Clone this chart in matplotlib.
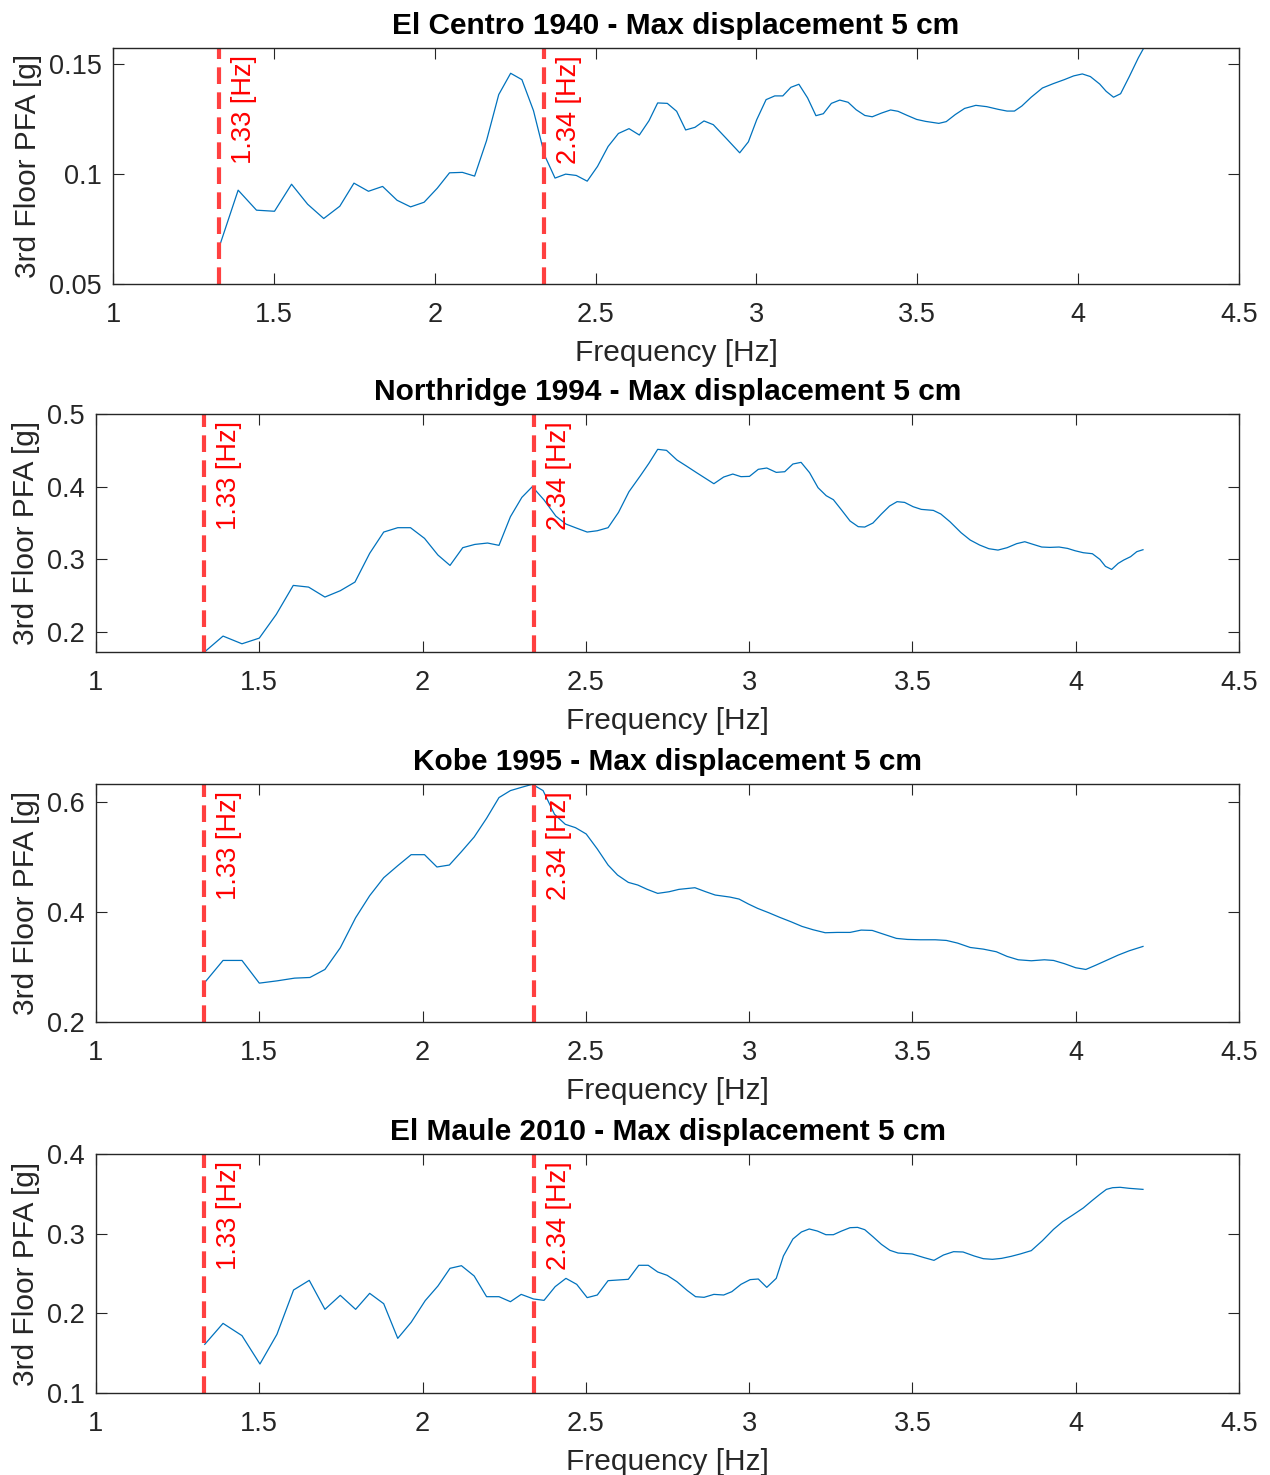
import matplotlib
matplotlib.use("Agg")
import matplotlib.pyplot as plt

plt.rcParams['font.family'] = ['Liberation Sans', 'DejaVu Sans']

titles = ["El Centro 1940 - Max displacement 5 cm",
          "Northridge 1994 - Max displacement 5 cm",
          "Kobe 1995 - Max displacement 5 cm",
          "El Maule 2010 - Max displacement 5 cm"]
xlabel = "Frequency [Hz]"
ylabel = "3rd Floor PFA [g]"
mode_freqs = [1.33, 2.34]
mode_labels = ["1.33 [Hz]", "2.34 [Hz]"]
xticks = [1, 1.5, 2, 2.5, 3, 3.5, 4, 4.5]
xticklabels = ["1", "1.5", "2", "2.5", "3", "3.5", "4", "4.5"]

# El Centro
f1 = [1.333, 1.389, 1.446, 1.502, 1.555, 1.605, 1.655, 1.705, 1.749, 1.794,
      1.838, 1.883, 1.925, 1.967, 2.008, 2.046, 2.086, 2.124, 2.161, 2.199,
      2.236, 2.271, 2.307, 2.342, 2.374, 2.407, 2.440, 2.474, 2.506, 2.539,
      2.571, 2.604, 2.636, 2.666, 2.693, 2.723, 2.752, 2.780, 2.809, 2.837,
      2.866, 2.906, 2.948, 2.975, 3.001, 3.030, 3.057, 3.082, 3.107, 3.132,
      3.159, 3.185, 3.208, 3.233, 3.259, 3.285, 3.310, 3.337, 3.360, 3.389,
      3.417, 3.440, 3.469, 3.498, 3.526, 3.567, 3.590, 3.618, 3.647, 3.682,
      3.716, 3.751, 3.779, 3.802, 3.825, 3.854, 3.889, 3.923, 3.957, 3.986,
      4.013, 4.038, 4.067, 4.087, 4.110, 4.132, 4.159, 4.187, 4.210]
v1 = [0.0681, 0.0927, 0.0836, 0.0831, 0.0954, 0.0863, 0.0798, 0.0854, 0.0959, 0.0922,
      0.0944, 0.0881, 0.0851, 0.0872, 0.0936, 0.1006, 0.1008, 0.0991, 0.1152, 0.1362,
      0.1459, 0.1430, 0.1289, 0.1084, 0.0982, 0.1000, 0.0994, 0.0968, 0.1035, 0.1126,
      0.1185, 0.1207, 0.1178, 0.1243, 0.1324, 0.1322, 0.1286, 0.1201, 0.1213, 0.1242,
      0.1225, 0.1163, 0.1097, 0.1147, 0.1248, 0.1339, 0.1356, 0.1356, 0.1395, 0.1409,
      0.1347, 0.1266, 0.1275, 0.1322, 0.1337, 0.1327, 0.1293, 0.1267, 0.1261, 0.1278,
      0.1292, 0.1286, 0.1267, 0.1249, 0.1240, 0.1231, 0.1239, 0.1271, 0.1299, 0.1313,
      0.1307, 0.1295, 0.1287, 0.1287, 0.1310, 0.1350, 0.1392, 0.1412, 0.1430, 0.1447,
      0.1456, 0.1444, 0.1410, 0.1377, 0.1350, 0.1366, 0.1444, 0.1529, 0.1590]

# Northridge
f2 = [1.333, 1.389, 1.447, 1.500, 1.552, 1.604, 1.651, 1.701, 1.748, 1.793,
      1.838, 1.881, 1.924, 1.963, 2.006, 2.047, 2.084, 2.123, 2.160, 2.199,
      2.234, 2.269, 2.304, 2.336, 2.372, 2.408, 2.439, 2.471, 2.504, 2.535,
      2.568, 2.600, 2.632, 2.667, 2.693, 2.720, 2.747, 2.779, 2.808,
      2.839, 2.892, 2.922, 2.950, 2.975, 3.001, 3.028, 3.054, 3.083, 3.109,
      3.134, 3.159, 3.185, 3.211, 3.236, 3.258, 3.283, 3.309, 3.334, 3.354,
      3.379, 3.405, 3.430, 3.453, 3.476, 3.502, 3.527, 3.564, 3.587, 3.615,
      3.649, 3.677, 3.706, 3.734, 3.762, 3.790, 3.819, 3.844, 3.870, 3.896,
      3.921, 3.949, 3.975, 3.998, 4.023, 4.051, 4.074, 4.091, 4.110, 4.130,
      4.147, 4.168, 4.187, 4.206]
v2 = [0.1729, 0.1945, 0.1839, 0.1917, 0.2243, 0.2642, 0.2619, 0.2482, 0.2569, 0.2688,
      0.3083, 0.3376, 0.3436, 0.3436, 0.3289, 0.3060, 0.2917, 0.3161, 0.3206, 0.3225,
      0.3193, 0.3587, 0.3853, 0.4000, 0.3817, 0.3596, 0.3486, 0.3431, 0.3376, 0.3394,
      0.3436, 0.3647, 0.3931, 0.4151, 0.4321, 0.4514, 0.4500, 0.4367, 0.4284,
      0.4193, 0.4041, 0.4133, 0.4174, 0.4138, 0.4142, 0.4239, 0.4257, 0.4197, 0.4206,
      0.4312, 0.4335, 0.4193, 0.3986, 0.3876, 0.3821, 0.3679, 0.3528, 0.3450, 0.3445,
      0.3500, 0.3624, 0.3734, 0.3794, 0.3784, 0.3725, 0.3688, 0.3674, 0.3624, 0.3518,
      0.3367, 0.3266, 0.3197, 0.3147, 0.3128, 0.3161, 0.3216, 0.3243, 0.3206, 0.3170,
      0.3165, 0.3170, 0.3151, 0.3119, 0.3092, 0.3078, 0.3000, 0.2904, 0.2862, 0.2945,
      0.2991, 0.3037, 0.3106, 0.3133]

# Kobe
f3 = [1.333, 1.389, 1.447, 1.500, 1.555, 1.608, 1.655, 1.701, 1.748, 1.795,
      1.838, 1.881, 1.924, 1.965, 2.006, 2.044, 2.082, 2.119, 2.158, 2.196,
      2.234, 2.269, 2.304, 2.336, 2.369, 2.404, 2.437, 2.468, 2.501, 2.535,
      2.568, 2.597, 2.630, 2.659, 2.688, 2.720, 2.755, 2.785,
      2.834, 2.867, 2.896, 2.941, 2.969, 2.998, 3.026, 3.060, 3.094, 3.128,
      3.162, 3.196, 3.233, 3.270, 3.309, 3.343, 3.377, 3.411, 3.451, 3.485,
      3.524, 3.570, 3.604, 3.638, 3.677, 3.717, 3.757, 3.790, 3.824, 3.864,
      3.904, 3.932, 3.966, 4.000, 4.031, 4.062, 4.096, 4.130, 4.164, 4.206]
v3 = [0.2719, 0.3120, 0.3120, 0.2707, 0.2749, 0.2798, 0.2810, 0.2956, 0.3350, 0.3897,
      0.4298, 0.4625, 0.4844, 0.5044, 0.5044, 0.4820, 0.4856, 0.5099, 0.5366, 0.5706,
      0.6083, 0.6210, 0.6271, 0.6325, 0.6210, 0.5779, 0.5597, 0.5536, 0.5421, 0.5148,
      0.4856, 0.4674, 0.4540, 0.4492, 0.4413, 0.4340, 0.4370, 0.4413,
      0.4443, 0.4370, 0.4310, 0.4273, 0.4237, 0.4146, 0.4067, 0.3988, 0.3903, 0.3824,
      0.3739, 0.3678, 0.3624, 0.3630, 0.3630, 0.3672, 0.3666, 0.3599, 0.3521, 0.3502,
      0.3496, 0.3496, 0.3484, 0.3436, 0.3356, 0.3326, 0.3278, 0.3193, 0.3132, 0.3114,
      0.3132, 0.3120, 0.3060, 0.2987, 0.2956, 0.3035, 0.3126, 0.3217, 0.3296, 0.3375]

# El Maule
f4 = [1.333, 1.389, 1.447, 1.502, 1.554, 1.605, 1.653, 1.701, 1.748, 1.795,
      1.838, 1.881, 1.924, 1.965, 2.008, 2.047, 2.084, 2.119, 2.158, 2.196,
      2.234, 2.269, 2.302, 2.340, 2.372, 2.406, 2.439, 2.472, 2.504, 2.535,
      2.568, 2.630, 2.662, 2.691, 2.720, 2.749, 2.779,
      2.811, 2.836, 2.862, 2.892, 2.922, 2.947, 2.975, 3.003, 3.028, 3.054,
      3.083, 3.105, 3.134, 3.160, 3.184, 3.209, 3.235, 3.258, 3.283, 3.309,
      3.332, 3.354, 3.379, 3.405, 3.431, 3.456, 3.499, 3.536, 3.566, 3.595,
      3.626, 3.655, 3.689, 3.717, 3.745, 3.773, 3.802, 3.830, 3.864, 3.898,
      3.932, 3.960, 3.991, 4.023, 4.051, 4.074, 4.094, 4.113, 4.136, 4.164,
      4.206]
v4 = [0.1611, 0.1874, 0.1720, 0.1364, 0.1736, 0.2293, 0.2414, 0.2050, 0.2226, 0.2050,
      0.2251, 0.2121, 0.1686, 0.1887, 0.2159, 0.2343, 0.2565, 0.2598, 0.2469, 0.2209,
      0.2209, 0.2146, 0.2238, 0.2180, 0.2163, 0.2335, 0.2439, 0.2364, 0.2197, 0.2230,
      0.2410, 0.2427, 0.2603, 0.2603, 0.2519, 0.2477, 0.2397,
      0.2285, 0.2209, 0.2201, 0.2238, 0.2230, 0.2272, 0.2364, 0.2423, 0.2431, 0.2326,
      0.2439, 0.2720, 0.2933, 0.3021, 0.3059, 0.3033, 0.2987, 0.2987, 0.3033, 0.3075,
      0.3079, 0.3050, 0.2962, 0.2866, 0.2791, 0.2757, 0.2745, 0.2699, 0.2665, 0.2732,
      0.2774, 0.2770, 0.2720, 0.2686, 0.2678, 0.2690, 0.2715, 0.2745, 0.2787, 0.2912,
      0.3054, 0.3151, 0.3234, 0.3322, 0.3418, 0.3494, 0.3556, 0.3577, 0.3582, 0.3569,
      0.3556]

freqs = [f1, f2, f3, f4]
vals = [v1, v2, v3, v4]
ylims = [(0.05, 0.1574), (0.1726, 0.5), (0.2, 0.633), (0.1, 0.4)]
yticks = [[0.05, 0.1, 0.15], [0.2, 0.3, 0.4, 0.5], [0.2, 0.4, 0.6], [0.1, 0.2, 0.3, 0.4]]
yticklabels = [["0.05", "0.1", "0.15"], ["0.2", "0.3", "0.4", "0.5"],
               ["0.2", "0.4", "0.6"], ["0.1", "0.2", "0.3", "0.4"]]

W, H = 1270, 1475
boxes = [(113, 1239, 48, 284), (96, 1239, 414, 652), (96, 1239, 784, 1022), (96, 1239, 1154, 1393)]
ylab_x = [27, 25, 25, 25]

fig = plt.figure(figsize=(W / 100, H / 100), dpi=100)
axc = '#262626'
for i in range(4):
    l, r, t, b = boxes[i]
    ax = fig.add_axes([l / W, 1 - b / H, (r - l) / W, (b - t) / H])
    ax.plot(freqs[i], vals[i], color='#0072BD', lw=0.9)
    for fm, lab in zip(mode_freqs, mode_labels):
        ax.axvline(fm, color='#ff4040', lw=3, linestyle=(0, (4, 2)))
        ax.annotate(lab, xy=(fm, ylims[i][1]), xytext=(12, -7), textcoords='offset pixels',
                    rotation=90, ha='left', va='top', color='red', fontsize=19.5)
    ax.set_xlim(1, 4.5)
    ax.set_ylim(*ylims[i])
    ax.set_xticks(xticks)
    ax.set_xticklabels(xticklabels)
    ax.set_yticks(yticks[i])
    ax.set_yticklabels(yticklabels[i])
    ax.tick_params(direction='in', length=8, width=0.8, colors=axc, labelsize=19.5,
                   top=True, right=True, pad=8)
    ax.tick_params(axis='x', pad=13)
    for s in ax.spines.values():
        s.set_color(axc)
        s.set_linewidth(1.0)
    ax.set_title(titles[i], fontsize=21.5, fontweight='bold', pad=10)
    ax.set_xlabel(xlabel, fontsize=21.5, color=axc, labelpad=8)
    ax.set_ylabel(ylabel, fontsize=21.5, color=axc)
    ax.yaxis.set_label_coords((ylab_x[i] + 15 - l) / (r - l), 0.5)

fig.savefig('out.png', dpi=100)
